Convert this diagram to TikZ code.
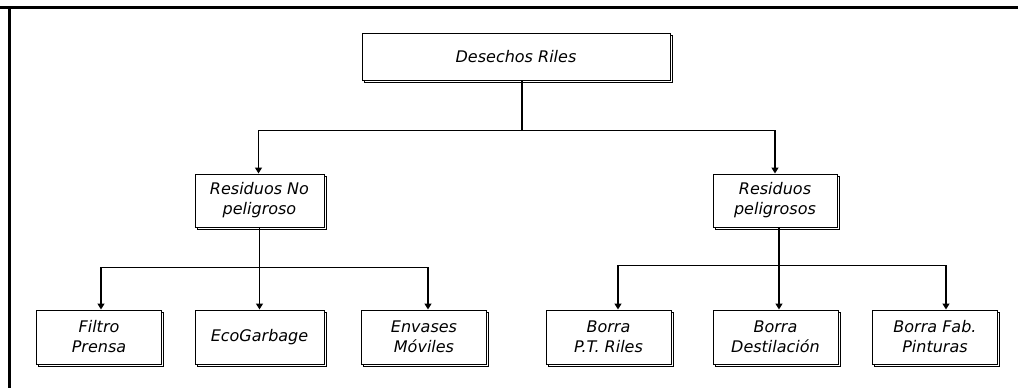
\documentclass[tikz,border=0pt]{standalone}
\usepackage{fontspec}
\setmainfont{DejaVu Sans}
\usetikzlibrary{positioning,arrows.meta,shadows}

\tikzset{
  caja/.style={draw, fill=white, line width=1pt, minimum width=125pt, minimum height=54pt,
    align=center, inner sep=2pt, font=\itshape\fontsize{16}{20}\selectfont,
    copy shadow={shadow xshift=2.2pt, shadow yshift=-2.2pt}},
  linea/.style={line width=1.4pt},
  flecha/.style={line width=1.4pt, -{Triangle[width=7pt,length=6pt]}}
}

\begin{document}
\begin{tikzpicture}[x=1pt,y=-1pt]
    \useasboundingbox (0,0) rectangle (1018,388);
    % marco
    \draw[line width=3pt] (0,7) -- (1018,7);
    \draw[line width=3pt] (9,6) -- (9,388);

    % nivel 1
    \node[caja, minimum width=308pt, minimum height=47pt] (riles) at (516,56.5) {Desechos Riles};

    % nivel 2
    \node[caja, minimum width=129pt, minimum height=53pt] (noPel) at (259.5,200.5) {Residuos No\\peligroso};
    \node[caja, minimum width=124pt, minimum height=53pt] (pel) at (775,200.5) {Residuos\\peligrosos};

    % nivel 3
    \node[caja] (filtro) at (99,337) {Filtro\\Prensa};
    \node[caja, minimum width=129pt] (eco) at (259.5,337) {EcoGarbage};
    \node[caja] (envases) at (424,337) {Envases\\M\'oviles};
    \node[caja] (borraPT) at (608.5,337) {Borra\\P.T. Riles};
    \node[caja] (destil) at (775.5,337) {Borra\\Destilaci\'on};
    \node[caja] (pintura) at (935,337) {Borra Fab.\\Pinturas};

    % conexiones
    \draw[linea] ([xshift=6pt]riles.south) -- ++(0,50) coordinate (barra1);
    \draw[flecha] (barra1) -| ([xshift=-1pt]noPel.north);
    \draw[flecha] (barra1) -| (pel.north);

    \draw[linea] (noPel.south) -- ++(0,40) coordinate (barra2);
    \draw[flecha] (barra2) -| ([xshift=2pt]filtro.north);
    \draw[flecha] (barra2) -| (eco.north);
    \draw[flecha] (barra2) -| ([xshift=4pt]envases.north);

    \draw[linea] ([xshift=4pt]pel.south) -- ++(0,38) coordinate (barra3);
    \draw[flecha] (barra3) -| ([xshift=9.5pt]borraPT.north);
    \draw[flecha] (barra3) -| ([xshift=3.5pt]destil.north);
    \draw[flecha] (barra3) -| ([xshift=11pt]pintura.north);
\end{tikzpicture}
\end{document}
